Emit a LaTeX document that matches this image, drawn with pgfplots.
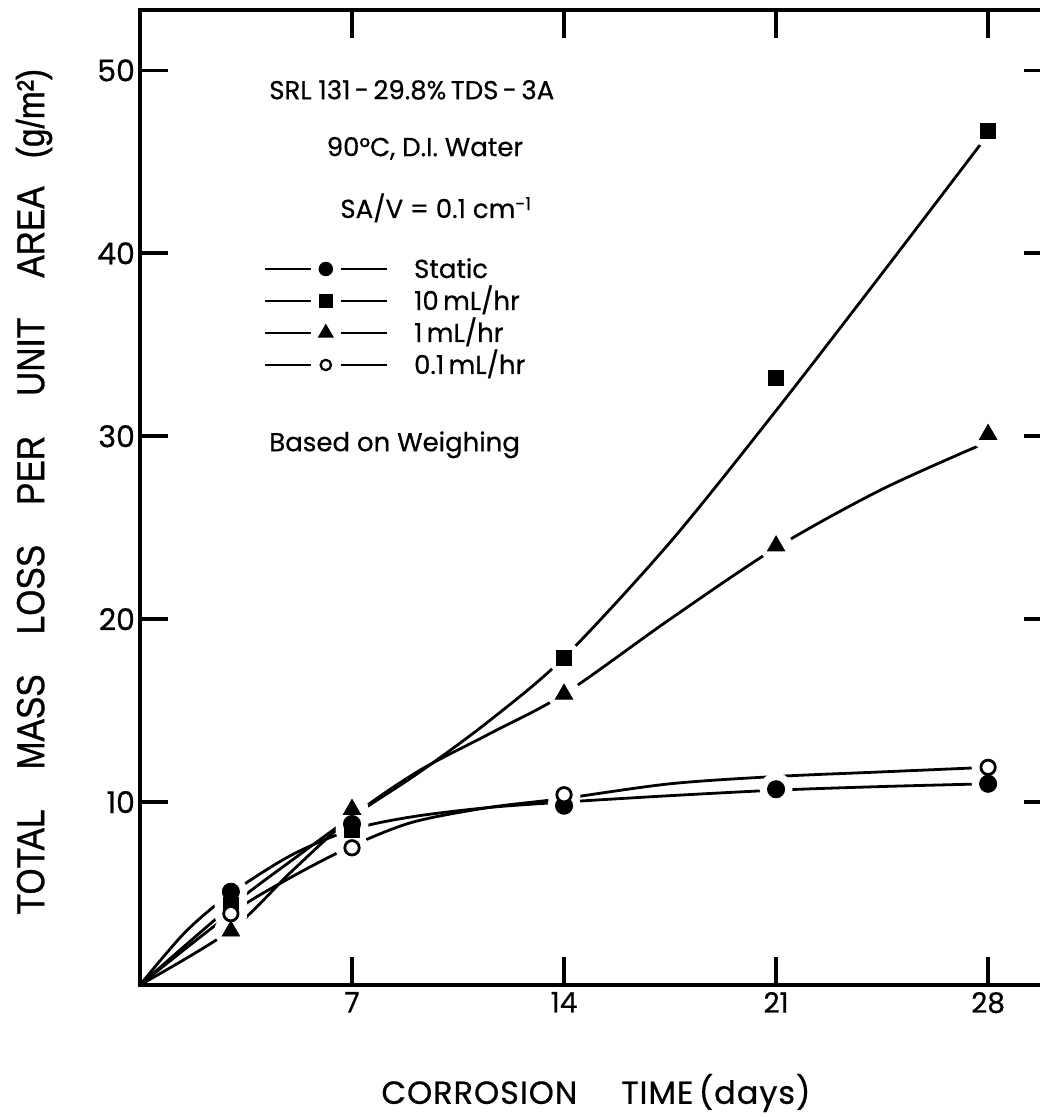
\documentclass[border=0pt]{standalone}
\usepackage{fontspec}
\setmainfont{Poppins}[FakeBold=0.6]
\newfontfamily\condfont[FakeStretch=0.86, FakeBold=0.8]{Liberation Sans}
\newfontfamily\labfont[FakeBold=0.6, LetterSpace=3]{Poppins}
\usepackage{pgfplots}
\pgfplotsset{compat=1.18}

\begin{document}
\begin{tikzpicture}
\useasboundingbox (-70pt,-66pt) rectangle (449.5pt,492.5pt);
\begin{axis}[
    scale only axis, width=456pt, height=487.5pt,
    xmin=0, xmax=30.11, ymin=0, ymax=53.3,
    xtick={7,14,21,28}, ytick={10,20,30,40,50},
    tick align=inside, major tick length=14pt,
    every tick/.style={black, line width=1.8pt},
    axis line style={line width=2pt},
    /pgf/number format/assume math mode=true,
    yticklabel style={font=\fontsize{15}{18}\selectfont, xshift=1pt},
    xticklabel style={font=\fontsize{14}{16}\selectfont},
    xlabel={\labfont CORROSION\hspace{22pt}TIME\,(days)},
    every axis x label/.style={at={(axis description cs:0.5,-0.1108)}, anchor=center,
      font=\fontsize{16}{19}\selectfont},
    ylabel={\condfont TOTAL\hspace{20pt}MASS\hspace{20pt}LOSS\hspace{20pt}PER\hspace{20pt}UNIT\hspace{20pt}AREA\hspace{14pt}(g/m²)},
    every axis y label/.style={at={(axis description cs:-0.1162,0.506)}, rotate=90, anchor=center,
      font=\fontsize{19.5}{22}\selectfont},
    legend style={draw=none, fill=none, at={(rel axis cs:0.135,0.744)}, anchor=north west,
      font=\fontsize{13}{15}\selectfont, row sep=7pt, inner sep=0pt,
      nodes={inner sep=0pt, text height=9pt, text depth=0pt},
      /tikz/every odd column/.append style={column sep=13pt},
      cells={anchor=west}},
    legend image code/.code={
      \draw[mark=none, line width=1.3pt] (0pt,0pt) -- (23pt,0pt) (38pt,0pt) -- (61pt,0pt);
      \draw[line width=1.2pt] plot coordinates {(30.5pt,0pt)};
    },
  ]

  % fitted curves as drawn on the figure
  \addplot[smooth, line width=1.4pt, no marks, forget plot] coordinates {
    (0,0) (1.5,2.9) (3,5.0) (5,7.1) (7,8.5) (9,9.2) (11.5,9.7) (14,10.0)
    (17.5,10.35) (21,10.65) (24.5,10.85) (28,11.0)};
  \addplot[smooth, line width=1.4pt, no marks, forget plot] coordinates {
    (0,0) (3,4.3) (5,6.8) (7,9.2) (9.2,11.6) (11.5,14.4) (14,17.9)
    (17.5,24.2) (21,31.4) (24.5,38.9) (28,46.5)};
  \addplot[smooth, line width=1.4pt, no marks, forget plot] coordinates {
    (0,0) (3,3.0) (5,6.2) (7,9.2) (9.2,11.7) (11.5,13.7) (14,15.9)
    (17.5,20.0) (21,23.9) (24.5,27.1) (28,29.7)};
  \addplot[smooth, line width=1.4pt, no marks, forget plot] coordinates {
    (0,0) (3,3.9) (5,5.9) (7,7.6) (9,8.9) (11.5,9.7) (14,10.2)
    (17.5,11.0) (21,11.4) (24.5,11.65) (28,11.9)};

  % white halos round the points
  \addplot[only marks, mark=*, mark size=8pt, mark options={draw=white, fill=white}, forget plot]
    coordinates {(3,5.1) (7,8.8) (14,9.8) (21,10.7) (28,11.0)
                 (3,4.4) (7,8.5) (14,17.9) (21,33.2) (28,46.7)
                 (3,2.95) (7,9.6) (14,15.9) (21,24.0) (28,30.1)
                 (3,3.9) (7,7.5) (14,10.4) (28,11.9)};

  % measured points
  \addplot[only marks, mark=*, mark size=4.3pt, black, forget plot]
    coordinates {(3,5.1) (7,8.8) (14,9.8) (21,10.7) (28,11.0)};
  \addplot[only marks, mark=square*, mark size=3.8pt, black, forget plot]
    coordinates {(3,4.4) (7,8.5) (14,17.9) (21,33.2) (28,46.7)};
  \addplot[only marks, mark=triangle*, mark size=5pt, black, forget plot]
    coordinates {(3,2.95) (7,9.6) (14,15.9) (21,24.0) (28,30.1)};
  \addplot[only marks, mark=*, mark size=3.6pt, black, mark options={fill=white, line width=1.4pt}, forget plot]
    coordinates {(3,3.9) (7,7.5) (14,10.4) (28,11.9)};

  \addlegendimage{black, mark=*, mark size=3pt}
  \addlegendentry{Static}
  \addlegendimage{black, mark=square*, mark size=2.8pt}
  \addlegendentry{10\,mL/hr}
  \addlegendimage{black, mark=triangle*, mark size=3.5pt}
  \addlegendentry{1\,mL/hr}
  \addlegendimage{black, mark=*, mark size=2.6pt, mark options={fill=white, line width=1.1pt}}
  \addlegendentry{0.1\,mL/hr}

  \node[anchor=west, font=\fontsize{13}{15}\selectfont] at (rel axis cs:0.134,0.918) {SRL 131\,-\,29.8\%\,TDS\,-\,3A};
  \node[anchor=west, font=\fontsize{13}{15}\selectfont] at (rel axis cs:0.197,0.858) {90°C, D.I. Water};
  \node[anchor=west, font=\fontsize{13}{15}\selectfont] at (rel axis cs:0.212,0.797) {SA/V = 0.1 cm\raisebox{0.55ex}{\fontsize{9}{9}\selectfont -1}};
  \node[anchor=west, font=\fontsize{13}{15}\selectfont] at (rel axis cs:0.134,0.554) {Based on Weighing};
\end{axis}
\end{tikzpicture}
\end{document}
